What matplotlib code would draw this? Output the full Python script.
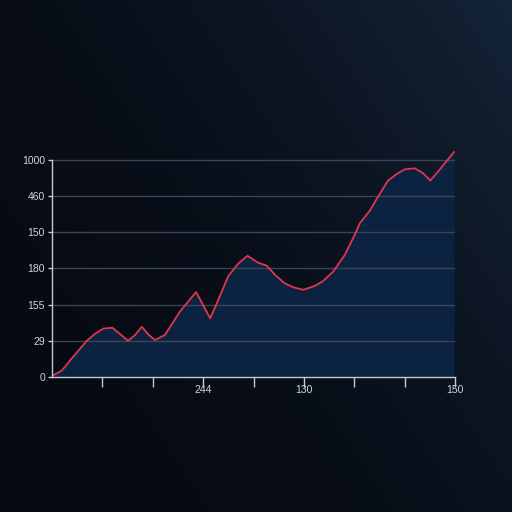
import numpy as np
import matplotlib.pyplot as plt

# series values, x in steps (0-80), y in grid units
x = [0, 1.9, 4.2, 6.9, 8.5, 10.2, 12.0, 13.5, 15.1, 16.5, 17.8, 19.1, 20.4,
     22.4, 25.4, 28.6, 31.4, 33.0, 35.0, 37.0, 38.8, 40.9, 42.6, 44.3, 46.2,
     47.9, 49.9, 52.2, 53.8, 55.8, 58.1, 60.1, 61.1, 63.1, 64.7, 66.7, 68.4,
     70.0, 72.0, 73.7, 75.1, 77.0, 79.8]
y = [0.03, 0.17, 0.56, 1.00, 1.19, 1.34, 1.36, 1.19, 1.00, 1.16, 1.39, 1.18,
     1.02, 1.16, 1.81, 2.35, 1.62, 2.13, 2.79, 3.14, 3.35, 3.16, 3.08, 2.82,
     2.59, 2.48, 2.41, 2.52, 2.65, 2.91, 3.37, 3.93, 4.25, 4.60, 4.98, 5.43,
     5.61, 5.74, 5.77, 5.63, 5.43, 5.74, 6.22]

ytick_labels = ['0', '29', '155', '180', '150', '460', '1000']
xtick_pos = [10, 20, 30, 40, 50, 60, 70, 80]
xtick_labels = ['', '', '244', '', '130', '', '', '150']

plt.rcParams['font.family'] = ['Liberation Sans Narrow', 'Liberation Sans', 'DejaVu Sans']

fig = plt.figure(figsize=(5.12, 5.12), dpi=100)

# background gradient, dark lower-left to slightly bluer upper-right
bg = fig.add_axes([0, 0, 1, 1])
gx, gy = np.meshgrid(np.linspace(0, 1, 256), np.linspace(0, 1, 256))
t = np.clip(0.6 * gx + 0.4 * (1 - gy), 0, 1) ** 2.2
c0 = np.array([0.025, 0.04, 0.07])
c1 = np.array([0.08, 0.14, 0.22])
img = c0 + (c1 - c0) * t[..., None]
bg.imshow(img, extent=[0, 1, 0, 1], aspect='auto', origin='upper')
bg.axis('off')

ax = fig.add_axes([0.1016, 0.2637, 0.7871, 0.4415])
ax.set_facecolor('none')
ax.fill_between(x, y, 0, color='#0b2240', lw=0, zorder=1)
for v in range(1, 7):
    ax.axhline(v, color='#3a4556', lw=1, zorder=2)
ax.plot(x, y, color='#e0364f', lw=1.3, zorder=3)

ax.set_xlim(0, 80)
ax.set_ylim(0, 6.25)
ax.set_yticks(range(7))
ax.set_yticklabels(ytick_labels)
ax.set_xticks(xtick_pos)
ax.set_xticklabels(xtick_labels)

for s in ['top', 'right']:
    ax.spines[s].set_visible(False)
for s in ['left', 'bottom']:
    ax.spines[s].set_color('#c4cad4')
    ax.spines[s].set_linewidth(1)
    ax.spines[s].set_zorder(4)
ax.spines['left'].set_bounds(0, 6)

ax.tick_params(axis='y', colors='#c4cad4', labelcolor='#d0d4dc', length=3, width=1, labelsize=7.5, pad=2)
ax.tick_params(axis='x', colors='#c4cad4', labelcolor='#d0d4dc', length=7, width=1, labelsize=7.5, pad=-1)

fig.savefig('out.png', dpi=100)
